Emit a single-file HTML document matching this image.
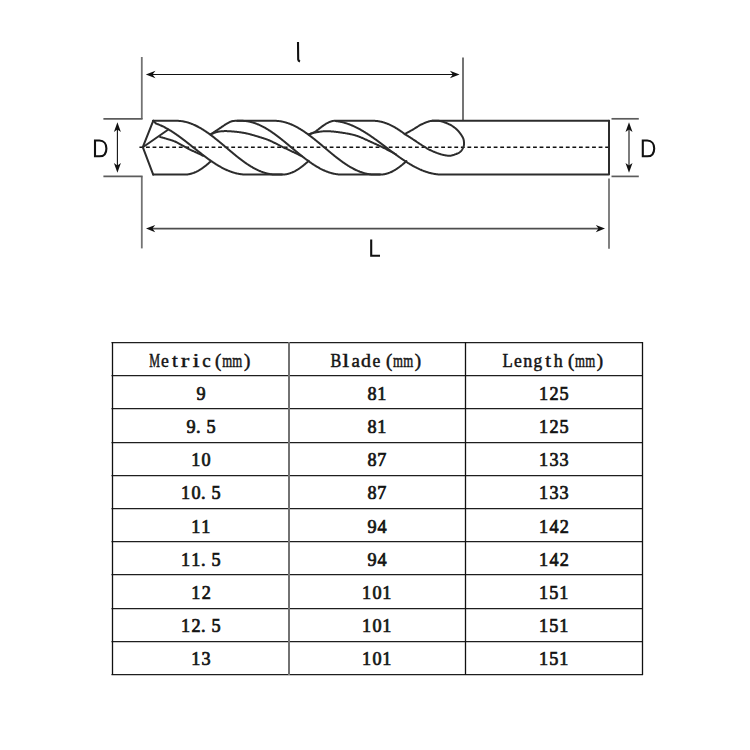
<!DOCTYPE html>
<html><head><meta charset="utf-8"><style>
html,body{margin:0;padding:0;background:#fff;}
svg{display:block;}
.tt{font-family:"Liberation Serif", serif;}
</style></head><body>
<svg width="750" height="750" viewBox="0 0 750 750">
<rect width="750" height="750" fill="#fff"/>
<g stroke="#737373" stroke-width="1.8" fill="none">
<path d="M141.8,57 L141.8,118.8"/>
<path d="M141.8,176.4 L141.8,248.4"/>
<path d="M609,178.6 L609,248.8"/>
</g>
<g stroke="#5c5c5c" stroke-width="1.7" fill="none">
<path d="M142.6,118.8 L103.4,118.8"/>
<path d="M103.4,176.4 L142.6,176.4"/>
<path d="M463,57.4 L463,120"/>
<path d="M611.5,118.8 L638.8,118.8"/>
<path d="M611.5,176.4 L638.8,176.4"/>
</g>
<g stroke="#111" stroke-width="1.1" fill="none">
<path d="M150,74.5 L455,74.5"/>
<path d="M117.4,128 L117.4,167"/>
<path d="M629,128 L629,167"/>
</g>
<g stroke="#4e4e4e" stroke-width="1.6" fill="none">
<path d="M150,228.6 L600,228.6"/>
</g>
<g fill="#111" stroke="none">
<path d="M145.8,74.5 L155.5,70.8 L152.5,74.5 L155.5,78.2 Z"/>
<path d="M459.6,74.5 L449.9,70.8 L452.9,74.5 L449.9,78.2 Z"/>
<path d="M146,228.6 L155.2,225 L152.5,228.6 L155.2,232.2 Z"/>
<path d="M605,228.6 L595.8,225 L598.5,228.6 L595.8,232.2 Z"/>
<path d="M117.4,122.3 L113.9,132 L117.4,129.5 L120.9,132 Z"/>
<path d="M117.4,172.7 L113.9,163 L117.4,165.5 L120.9,163 Z"/>
<path d="M629,122.3 L625.5,132 L629,129.5 L632.5,132 Z"/>
<path d="M629,172.7 L625.5,163 L629,165.5 L632.5,163 Z"/>
</g>
<g stroke="#111" stroke-width="2.1" fill="none" stroke-linecap="butt">
<path d="M298,42 L298.2,59.5 Q298.4,61 300,61.6"/>
<path d="M371.2,239.6 L371.2,255.8 L380,255.8"/>
<path d="M95,140.5 L95,156.3 L99.5,156.3 C104.5,156.3 106.4,152.5 106.4,148.4 C106.4,144 104,140.5 99.5,140.5 Z"/>
<path d="M642.8,140.5 L642.8,156.3 L647.3,156.3 C652.3,156.3 654.2,152.5 654.2,148.4 C654.2,144 651.8,140.5 647.3,140.5 Z"/>
</g>
<path d="M139.44,147.3 L608,147.3" stroke="#111" stroke-width="1.5" stroke-dasharray="3.8 2.76" fill="none"/>
<g stroke="#2c2c2c" stroke-width="2.0" fill="none" stroke-linejoin="round" stroke-linecap="round">
<path d="M153.20,120.80 L142.80,147.20 L153.20,174.60"/>
<path d="M153.20,120.80 L176.40,120.80 L176.90,120.80 L177.41,120.81 L177.91,120.83 L178.41,120.85 L178.91,120.88 L179.42,120.92 L179.92,120.96 L180.42,121.01 L180.92,121.07 L181.43,121.13 L181.93,121.20 L182.43,121.28 L182.93,121.36 L183.44,121.45 L183.94,121.55 L184.44,121.65 L184.94,121.76 L185.45,121.88 L185.95,122.00 L186.45,122.13 L186.95,122.26 L187.46,122.41 L187.96,122.55 L188.46,122.71 L188.96,122.87 L189.47,123.03 L189.97,123.21 L190.47,123.39 L190.97,123.57 L191.48,123.76 L191.98,123.96 L192.48,124.16 L192.98,124.37 L193.49,124.58 L193.99,124.80 L194.49,125.03 L194.99,125.26 L195.50,125.50 L196.00,125.74 L196.50,125.99 L197.00,126.24 L197.51,126.50 L198.01,126.76 L198.51,127.03 L199.01,127.31 L199.52,127.59 L200.02,127.87 L200.52,128.16 L201.02,128.45 L201.53,128.75 L202.03,129.06 L202.53,129.37 L203.03,129.68 L203.54,130.00 L204.04,130.32 L204.54,130.65 L205.04,130.98 L205.55,131.31 L206.05,131.65 L206.55,131.99 L207.05,132.34 L207.56,132.69 L208.06,133.04 L208.56,133.40 L209.06,133.76 L209.57,134.13 L210.07,134.50 L210.57,134.87 L211.07,135.24 L211.58,135.62 L212.08,136.00 L212.58,136.39 L213.08,136.77 L213.59,137.16 L214.09,137.55 L214.59,137.95 L215.09,138.34 L215.60,138.74 L216.10,139.15 L216.60,139.55 L217.10,139.95 L217.61,140.36 L218.11,140.77 L218.61,141.18 L219.11,141.60 L219.62,142.01 L220.12,142.43 L220.62,142.84 L221.12,143.26 L221.63,143.68 L222.13,144.10 L222.63,144.52 L223.13,144.94 L223.64,145.37 L224.14,145.79 L224.64,146.21 L225.14,146.64 L225.65,147.06 L226.15,147.49 L226.65,147.91 L227.15,148.34 L227.66,148.76 L228.16,149.19 L228.66,149.61 L229.16,150.03 L229.67,150.46 L230.17,150.88 L230.67,151.30 L231.17,151.72 L231.68,152.14 L232.18,152.56 L232.68,152.97 L233.18,153.39 L233.69,153.80 L234.19,154.22 L234.69,154.63 L235.19,155.04 L235.70,155.45 L236.20,155.85 L236.70,156.25 L237.20,156.66 L237.71,157.06 L238.21,157.45 L238.71,157.85 L239.21,158.24 L239.72,158.63 L240.22,159.01 L240.72,159.40 L241.22,159.78 L241.73,160.16 L242.23,160.53 L242.73,160.90 L243.23,161.27 L243.74,161.64 L244.24,162.00 L244.74,162.36 L245.24,162.71 L245.75,163.06 L246.25,163.41 L246.75,163.75 L247.25,164.09 L247.76,164.42 L248.26,164.75 L248.76,165.08 L249.26,165.40 L249.77,165.72 L250.27,166.03 L250.77,166.34 L251.27,166.65 L251.78,166.95 L252.28,167.24 L252.78,167.53 L253.28,167.81 L253.79,168.09 L254.29,168.37 L254.79,168.64 L255.29,168.90 L255.80,169.16 L256.30,169.41 L256.80,169.66 L257.30,169.90 L257.81,170.14 L258.31,170.37 L258.81,170.60 L259.31,170.82 L259.82,171.03 L260.32,171.24 L260.82,171.44 L261.32,171.64 L261.83,171.83 L262.33,172.01 L262.83,172.19 L263.33,172.37 L263.84,172.53 L264.34,172.69 L264.84,172.85 L265.34,172.99 L265.85,173.14 L266.35,173.27 L266.85,173.40 L267.35,173.52 L267.86,173.64 L268.36,173.75 L268.86,173.85 L269.36,173.95 L269.87,174.04 L270.37,174.12 L270.87,174.20 L271.37,174.27 L271.88,174.33 L272.38,174.39 L272.88,174.44 L273.38,174.48 L273.89,174.52 L274.39,174.55 L274.89,174.57 L275.39,174.59 L275.90,174.60 L276.40,174.60 L282.00,174.60"/>
<path d="M153.20,174.60 L184.60,174.60 L185.10,174.59 L185.60,174.58 L186.10,174.55 L186.60,174.51 L187.10,174.47 L187.60,174.41 L188.10,174.34 L188.60,174.26 L189.10,174.17 L189.60,174.07 L190.10,173.96 L190.60,173.84 L191.10,173.71 L191.60,173.56 L192.10,173.41 L192.60,173.25 L193.10,173.08 L193.60,172.90 L194.10,172.70 L194.60,172.50 L195.10,172.29 L195.60,172.07 L196.10,171.84 L196.60,171.59 L197.10,171.34 L197.60,171.08 L198.10,170.82 L198.60,170.54 L199.10,170.25 L199.60,169.95 L200.10,169.65 L200.60,169.34 L201.10,169.01 L201.60,168.68 L202.10,168.34 L202.60,168.00 L203.10,167.64 L203.60,167.28 L204.10,166.91 L204.60,166.53 L205.10,166.15 L205.60,165.75 L206.10,165.35 L206.60,164.95 L207.10,164.53 L207.60,164.11 L208.10,163.68 L208.60,163.25 L209.10,162.81 L209.60,162.37 L210.10,161.91 L210.60,161.46"/>
<path d="M153.20,120.80 L156.00,123.52 L156.50,123.70 L157.00,123.88 L157.50,124.07 L158.00,124.26 L158.51,124.46 L159.01,124.66 L159.51,124.87 L160.01,125.09 L160.51,125.30 L161.01,125.53 L161.51,125.76 L162.01,125.99 L162.51,126.23 L163.02,126.47 L163.52,126.72 L164.02,126.97 L164.52,127.23 L165.02,127.49 L165.52,127.76 L166.02,128.03 L166.52,128.30 L167.02,128.58 L167.53,128.86 L168.03,129.15 L168.53,129.44 L169.03,129.74 L169.53,130.04 L170.03,130.34 L170.53,130.65 L171.03,130.96 L171.53,131.27 L172.04,131.59 L172.54,131.91 L173.04,132.24 L173.54,132.57 L174.04,132.90 L174.54,133.23 L175.04,133.57 L175.54,133.91 L176.04,134.26 L176.55,134.61 L177.05,134.96 L177.55,135.31 L178.05,135.66 L178.55,136.02 L179.05,136.38 L179.55,136.75 L180.05,137.11 L180.55,137.48 L181.06,137.85 L181.56,138.23 L182.06,138.60 L182.56,138.98 L183.06,139.36 L183.56,139.74 L184.06,140.12 L184.56,140.50 L185.06,140.89 L185.57,141.28 L186.07,141.67 L186.57,142.06 L187.07,142.45 L187.57,142.84 L188.07,143.23 L188.57,143.63 L189.07,144.02 L189.57,144.42 L190.08,144.82 L190.58,145.21 L191.08,145.61 L191.58,146.01 L192.08,146.41 L192.58,146.81 L193.08,147.21 L193.58,147.61 L194.08,148.01 L194.59,148.41 L195.09,148.80 L195.59,149.20 L196.09,149.60 L196.59,150.00 L197.09,150.40 L197.59,150.80 L198.09,151.19 L198.59,151.59 L199.10,151.98 L199.60,152.38 L200.10,152.77 L200.60,153.16 L201.10,153.55 L201.60,153.94 L202.10,154.33 L202.60,154.72 L203.10,155.10 L203.60,155.48 L204.11,155.87 L204.61,156.25 L205.11,156.62 L205.61,157.00 L206.11,157.37 L206.61,157.74 L207.11,158.11 L207.61,158.48 L208.11,158.85 L208.62,159.21 L209.12,159.57 L209.62,159.93 L210.12,160.28 L210.62,160.63 L211.12,160.98 L211.62,161.33 L212.12,161.67 L212.62,162.01 L213.13,162.35 L213.63,162.68 L214.13,163.01 L214.63,163.34 L215.13,163.66 L215.63,163.98 L216.13,164.30 L216.63,164.61 L217.13,164.92 L217.64,165.22 L218.14,165.52 L218.64,165.82 L219.14,166.11 L219.64,166.40 L220.14,166.69 L220.64,166.97 L221.14,167.25 L221.64,167.52 L222.15,167.79 L222.65,168.05 L223.15,168.31 L223.65,168.56 L224.15,168.81 L224.65,169.06 L225.15,169.30 L225.65,169.53 L226.15,169.77 L226.66,169.99 L227.16,170.21 L227.66,170.43 L228.16,170.64 L228.66,170.85 L229.16,171.05 L229.66,171.24 L230.16,171.43 L230.66,171.62 L231.17,171.80 L231.67,171.97 L232.17,172.14 L232.67,172.31 L233.17,172.47 L233.67,172.62 L234.17,172.77 L234.67,172.91 L235.17,173.05 L235.68,173.18 L236.18,173.30 L236.68,173.42 L237.18,173.54 L237.68,173.64 L238.18,173.75 L238.68,173.84 L239.18,173.94 L239.68,174.02 L240.19,174.10 L240.69,174.17 L241.19,174.24 L241.69,174.30 L242.19,174.36 L242.69,174.41 L243.19,174.45 L243.69,174.49 L244.19,174.53 L244.70,174.55 L245.20,174.57 L245.70,174.59 L246.20,174.60 L246.70,174.60 L282.00,174.60 L282.50,174.59 L283.01,174.58 L283.51,174.55 L284.02,174.51 L284.52,174.47 L285.02,174.41 L285.53,174.34 L286.03,174.26 L286.53,174.16 L287.04,174.06 L287.54,173.95 L288.05,173.83 L288.55,173.69 L289.05,173.55 L289.56,173.39 L290.06,173.23 L290.56,173.05 L291.07,172.87 L291.57,172.67 L292.08,172.47 L292.58,172.25 L293.08,172.03 L293.59,171.79 L294.09,171.55 L294.59,171.30 L295.10,171.03 L295.60,170.76 L296.11,170.48 L296.61,170.19 L297.11,169.89 L297.62,169.58 L298.12,169.26 L298.62,168.93 L299.13,168.60 L299.63,168.25 L300.14,167.90 L300.64,167.54 L301.14,167.17 L301.65,166.80 L302.15,166.42 L302.65,166.02 L303.16,165.63 L303.66,165.22 L304.17,164.81 L304.67,164.39 L305.17,163.96 L305.68,163.53 L306.18,163.09 L306.68,162.65 L307.19,162.20 L307.69,161.74 L308.20,161.28 L308.70,160.81"/>
<path d="M142.80,147.20 L168.00,129.70"/>
<path d="M160.10,137.00 L160.37,137.07 L160.69,137.15 L161.06,137.25 L161.48,137.35 L161.93,137.46 L162.42,137.59 L162.95,137.72 L163.51,137.87 L164.10,138.04 L164.71,138.21 L165.35,138.40 L166.00,138.60 L166.39,138.72 L166.78,138.84 L167.20,138.96 L167.62,139.09 L168.05,139.22 L168.50,139.35 L168.96,139.48 L169.42,139.62 L169.89,139.76 L170.38,139.91 L170.86,140.07 L171.36,140.22 L171.86,140.39 L172.37,140.56 L172.88,140.74 L173.39,140.93 L173.91,141.13 L174.43,141.33 L174.95,141.54 L175.48,141.77 L176.00,142.00 L176.41,142.19 L176.83,142.39 L177.26,142.60 L177.69,142.82 L178.13,143.05 L178.57,143.29 L179.02,143.53 L179.47,143.78 L179.93,144.03 L180.38,144.29 L180.84,144.55 L181.31,144.82 L181.77,145.08 L182.23,145.35 L182.69,145.62 L183.16,145.89 L183.62,146.16 L184.07,146.42 L184.53,146.68 L184.98,146.94 L185.43,147.20 L185.87,147.45 L186.31,147.69 L186.74,147.93 L187.17,148.16 L187.59,148.39 L188.00,148.60 L188.50,148.86 L189.00,149.11 L189.51,149.36 L190.01,149.60 L190.51,149.84 L191.01,150.08 L191.50,150.31 L191.99,150.54 L192.48,150.77 L192.96,150.99 L193.44,151.21 L193.91,151.42 L194.37,151.63 L194.82,151.83 L195.26,152.03 L195.69,152.23 L196.11,152.42 L196.51,152.61 L196.91,152.79 L197.29,152.96 L197.65,153.13 L198.00,153.30 L198.66,153.62 L199.28,153.92 L199.86,154.21 L200.40,154.48 L200.89,154.73 L201.35,154.96 L201.76,155.17 L202.13,155.36 L202.46,155.53 L202.75,155.67 L203.00,155.80"/>
<path d="M210.60,134.40 L210.84,134.24 L211.12,134.06 L211.43,133.85 L211.79,133.61 L212.17,133.36 L212.59,133.09 L213.02,132.80 L213.48,132.49 L213.95,132.18 L214.43,131.86 L214.93,131.53 L215.43,131.20 L215.92,130.87 L216.42,130.54 L216.91,130.22 L217.39,129.90 L217.85,129.60 L218.30,129.30 L218.72,129.02 L219.14,128.74 L219.57,128.45 L220.01,128.15 L220.45,127.85 L220.89,127.55 L221.34,127.25 L221.78,126.95 L222.22,126.65 L222.66,126.35 L223.10,126.06 L223.53,125.77 L223.96,125.49 L224.37,125.21 L224.78,124.95 L225.18,124.69 L225.57,124.45 L225.94,124.22 L226.30,124.00 L226.84,123.68 L227.35,123.37 L227.84,123.09 L228.30,122.83 L228.74,122.58 L229.17,122.35 L229.59,122.14 L230.00,121.94 L230.42,121.76 L230.84,121.59 L231.26,121.44 L231.70,121.30 L232.23,121.16 L232.74,121.05 L233.24,120.97 L233.75,120.92 L234.25,120.88 L234.76,120.86 L235.29,120.84 L235.83,120.83 L236.40,120.82 L237.00,120.80 L237.46,120.78 L237.97,120.77 L238.51,120.77 L239.08,120.76 L239.66,120.76 L240.25,120.77 L240.83,120.77 L241.40,120.77 L241.95,120.78 L242.46,120.79 L242.93,120.79 L243.35,120.80 L243.71,120.80 L244.00,120.80 L274.40,120.80 L274.90,120.80 L275.40,120.81 L275.90,120.83 L276.40,120.85 L276.90,120.88 L277.40,120.92 L277.90,120.96 L278.40,121.01 L278.90,121.07 L279.40,121.13 L279.90,121.20 L280.40,121.27 L280.90,121.35 L281.40,121.44 L281.90,121.54 L282.40,121.64 L282.90,121.74 L283.40,121.86 L283.90,121.98 L284.40,122.10 L284.90,122.24 L285.40,122.37 L285.90,122.52 L286.40,122.67 L286.90,122.83 L287.40,122.99 L287.90,123.16 L288.40,123.34 L288.90,123.52 L289.40,123.70 L289.90,123.90 L290.40,124.10 L290.90,124.30 L291.40,124.51 L291.90,124.73 L292.40,124.95 L292.90,125.17 L293.40,125.41 L293.90,125.64 L294.40,125.89 L294.90,126.14 L295.40,126.39 L295.90,126.65 L296.40,126.91 L296.90,127.18 L297.40,127.46 L297.90,127.74 L298.40,128.02 L298.90,128.31 L299.40,128.60 L299.90,128.90 L300.40,129.21 L300.90,129.51 L301.40,129.83 L301.90,130.14 L302.40,130.46 L302.90,130.79 L303.40,131.12 L303.90,131.45 L304.40,131.79 L304.90,132.13 L305.40,132.47 L305.90,132.82 L306.40,133.17 L306.90,133.53 L307.40,133.89 L307.90,134.25 L308.40,134.62 L308.90,134.98 L309.40,135.36 L309.90,135.73 L310.40,136.11 L310.90,136.49 L311.40,136.87 L311.90,137.26 L312.40,137.65 L312.90,138.04 L313.40,138.43 L313.90,138.83 L314.40,139.23 L314.90,139.63 L315.40,140.03 L315.90,140.43 L316.40,140.84 L316.90,141.25 L317.40,141.66 L317.90,142.07 L318.40,142.48 L318.90,142.89 L319.40,143.31 L319.90,143.72 L320.40,144.14 L320.90,144.55 L321.40,144.97 L321.90,145.39 L322.40,145.81 L322.90,146.23 L323.40,146.65 L323.90,147.07 L324.40,147.49 L324.90,147.91 L325.40,148.33 L325.90,148.75 L326.40,149.17 L326.90,149.59 L327.40,150.01 L327.90,150.43 L328.40,150.85 L328.90,151.26 L329.40,151.68 L329.90,152.09 L330.40,152.51 L330.90,152.92 L331.40,153.33 L331.90,153.74 L332.40,154.15 L332.90,154.56 L333.40,154.97 L333.90,155.37 L334.40,155.77 L334.90,156.17 L335.40,156.57 L335.90,156.97 L336.40,157.36 L336.90,157.75 L337.40,158.14 L337.90,158.53 L338.40,158.91 L338.90,159.29 L339.40,159.67 L339.90,160.04 L340.40,160.42 L340.90,160.78 L341.40,161.15 L341.90,161.51 L342.40,161.87 L342.90,162.23 L343.40,162.58 L343.90,162.93 L344.40,163.27 L344.90,163.61 L345.40,163.95 L345.90,164.28 L346.40,164.61 L346.90,164.94 L347.40,165.26 L347.90,165.57 L348.40,165.89 L348.90,166.19 L349.40,166.50 L349.90,166.80 L350.40,167.09 L350.90,167.38 L351.40,167.66 L351.90,167.94 L352.40,168.22 L352.90,168.49 L353.40,168.75 L353.90,169.01 L354.40,169.26 L354.90,169.51 L355.40,169.76 L355.90,169.99 L356.40,170.23 L356.90,170.45 L357.40,170.67 L357.90,170.89 L358.40,171.10 L358.90,171.30 L359.40,171.50 L359.90,171.70 L360.40,171.88 L360.90,172.06 L361.40,172.24 L361.90,172.41 L362.40,172.57 L362.90,172.73 L363.40,172.88 L363.90,173.03 L364.40,173.16 L364.90,173.30 L365.40,173.42 L365.90,173.54 L366.40,173.66 L366.90,173.76 L367.40,173.86 L367.90,173.96 L368.40,174.05 L368.90,174.13 L369.40,174.20 L369.90,174.27 L370.40,174.33 L370.90,174.39 L371.40,174.44 L371.90,174.48 L372.40,174.52 L372.90,174.55 L373.40,174.57 L373.90,174.59 L374.40,174.60 L374.90,174.60 L380.00,174.60"/>
<path d="M210.60,134.40 L210.86,134.30 L211.17,134.18 L211.52,134.03 L211.91,133.86 L212.34,133.68 L212.79,133.49 L213.27,133.29 L213.78,133.08 L214.31,132.87 L214.85,132.67 L215.41,132.47 L215.98,132.28 L216.56,132.11 L217.14,131.95 L217.72,131.81 L218.30,131.70 L218.74,131.63 L219.18,131.56 L219.62,131.49 L220.07,131.43 L220.53,131.38 L220.98,131.33 L221.45,131.28 L221.92,131.24 L222.40,131.21 L222.88,131.18 L223.38,131.15 L223.89,131.13 L224.40,131.12 L224.93,131.11 L225.47,131.10 L226.02,131.11 L226.59,131.11 L227.17,131.13 L227.76,131.15 L228.37,131.17 L229.00,131.20 L229.42,131.22 L229.86,131.25 L230.30,131.28 L230.75,131.31 L231.22,131.34 L231.69,131.38 L232.16,131.41 L232.65,131.45 L233.14,131.50 L233.64,131.54 L234.15,131.59 L234.66,131.64 L235.17,131.69 L235.69,131.75 L236.21,131.80 L236.73,131.86 L237.26,131.92 L237.78,131.99 L238.31,132.05 L238.84,132.12 L239.37,132.19 L239.90,132.26 L240.42,132.34 L240.95,132.41 L241.47,132.49 L241.99,132.57 L242.50,132.66 L243.01,132.74 L243.52,132.83 L244.02,132.92 L244.51,133.01 L245.00,133.10 L245.50,133.20 L246.01,133.30 L246.51,133.41 L247.02,133.53 L247.53,133.64 L248.04,133.76 L248.55,133.89 L249.07,134.02 L249.58,134.15 L250.09,134.28 L250.60,134.42 L251.11,134.55 L251.62,134.69 L252.12,134.84 L252.62,134.98 L253.12,135.12 L253.62,135.27 L254.11,135.41 L254.60,135.56 L255.09,135.70 L255.57,135.84 L256.04,135.99 L256.51,136.13 L256.97,136.27 L257.43,136.41 L257.88,136.55 L258.32,136.68 L258.75,136.82 L259.18,136.95 L259.59,137.08 L260.00,137.20 L260.58,137.38 L261.13,137.54 L261.66,137.70 L262.17,137.86 L262.66,138.01 L263.13,138.15 L263.58,138.30 L264.03,138.44 L264.46,138.58 L264.89,138.72 L265.32,138.87 L265.75,139.01 L266.17,139.17 L266.61,139.33 L267.05,139.49 L267.50,139.67 L267.96,139.85 L268.44,140.04 L268.94,140.25 L269.46,140.47 L270.00,140.70 L270.41,140.88 L270.82,141.06 L271.24,141.25 L271.66,141.45 L272.10,141.66 L272.54,141.87 L272.98,142.08 L273.43,142.30 L273.88,142.53 L274.34,142.75 L274.80,142.99 L275.26,143.22 L275.73,143.46 L276.20,143.70 L276.67,143.94 L277.15,144.18 L277.62,144.43 L278.10,144.67 L278.58,144.92 L279.06,145.16 L279.53,145.41 L280.01,145.65 L280.49,145.89 L280.96,146.14 L281.43,146.37 L281.90,146.61 L282.37,146.84 L282.84,147.07 L283.30,147.30 L283.77,147.53 L284.24,147.76 L284.72,147.99 L285.21,148.22 L285.70,148.46 L286.20,148.70 L286.71,148.94 L287.21,149.18 L287.72,149.43 L288.23,149.67 L288.74,149.91 L289.24,150.15 L289.75,150.39 L290.25,150.63 L290.75,150.87 L291.24,151.10 L291.73,151.33 L292.20,151.56 L292.67,151.78 L293.14,152.00 L293.59,152.21 L294.03,152.42 L294.45,152.63 L294.87,152.82 L295.27,153.01 L295.65,153.20 L296.02,153.37 L296.37,153.54 L296.70,153.70 L297.51,154.09 L298.23,154.44 L298.87,154.75 L299.45,155.03 L299.96,155.29 L300.41,155.51 L300.80,155.71 L301.16,155.88 L301.47,156.04 L301.75,156.18 L302.00,156.30"/>
<path d="M237.20,120.80 L237.70,120.80 L238.20,120.80 L238.70,120.80 L239.20,120.80 L239.70,120.80 L240.20,120.80 L240.70,120.80 L241.20,120.80 L241.70,120.80 L242.20,120.81 L242.70,120.83 L243.20,120.85 L243.70,120.88 L244.20,120.92 L244.70,120.96 L245.20,121.01 L245.70,121.06 L246.20,121.12 L246.70,121.19 L247.20,121.27 L247.70,121.35 L248.20,121.44 L248.70,121.53 L249.20,121.63 L249.70,121.73 L250.20,121.85 L250.70,121.97 L251.20,122.09 L251.70,122.22 L252.20,122.36 L252.70,122.50 L253.20,122.65 L253.70,122.81 L254.20,122.97 L254.70,123.14 L255.20,123.31 L255.70,123.49 L256.20,123.68 L256.70,123.87 L257.20,124.06 L257.70,124.27 L258.20,124.47 L258.70,124.69 L259.20,124.91 L259.70,125.13 L260.20,125.36 L260.70,125.60 L261.20,125.84 L261.70,126.09 L262.20,126.34 L262.70,126.59 L263.20,126.86 L263.70,127.12 L264.20,127.40 L264.70,127.67 L265.20,127.95 L265.70,128.24 L266.20,128.53 L266.70,128.83 L267.20,129.13 L267.70,129.43 L268.20,129.74 L268.70,130.06 L269.20,130.37 L269.70,130.70 L270.20,131.02 L270.70,131.35 L271.20,131.69 L271.70,132.02 L272.20,132.37 L272.70,132.71 L273.20,133.06 L273.70,133.41 L274.20,133.77 L274.70,134.13 L275.20,134.49 L275.70,134.86 L276.20,135.23 L276.70,135.60 L277.20,135.97 L277.70,136.35 L278.20,136.73 L278.70,137.12 L279.20,137.50 L279.70,137.89 L280.20,138.28 L280.70,138.67 L281.20,139.07 L281.70,139.47 L282.20,139.87 L282.70,140.27 L283.20,140.67 L283.70,141.08 L284.20,141.48 L284.70,141.89 L285.20,142.30 L285.70,142.71 L286.20,143.12 L286.70,143.53 L287.20,143.95 L287.70,144.36 L288.20,144.78 L288.70,145.19 L289.20,145.61 L289.70,146.03 L290.20,146.45 L290.70,146.86 L291.20,147.28 L291.70,147.70 L292.20,148.12 L292.70,148.54 L293.20,148.95 L293.70,149.37 L294.20,149.79 L294.70,150.21 L295.20,150.62 L295.70,151.04 L296.20,151.45 L296.70,151.87 L297.20,152.28 L297.70,152.69 L298.20,153.10 L298.70,153.51 L299.20,153.92 L299.70,154.32 L300.20,154.73 L300.70,155.13 L301.20,155.53 L301.70,155.93 L302.20,156.33 L302.70,156.73 L303.20,157.12 L303.70,157.51 L304.20,157.90 L304.70,158.28 L305.20,158.67 L305.70,159.05 L306.20,159.43 L306.70,159.80 L307.20,160.17 L307.70,160.54 L308.20,160.91 L308.70,161.27 L309.20,161.63 L309.70,161.99 L310.20,162.34 L310.70,162.69 L311.20,163.03 L311.70,163.38 L312.20,163.71 L312.70,164.05 L313.20,164.38 L313.70,164.70 L314.20,165.03 L314.70,165.34 L315.20,165.66 L315.70,165.97 L316.20,166.27 L316.70,166.57 L317.20,166.87 L317.70,167.16 L318.20,167.45 L318.70,167.73 L319.20,168.00 L319.70,168.28 L320.20,168.54 L320.70,168.81 L321.20,169.06 L321.70,169.31 L322.20,169.56 L322.70,169.80 L323.20,170.04 L323.70,170.27 L324.20,170.49 L324.70,170.71 L325.20,170.93 L325.70,171.13 L326.20,171.34 L326.70,171.53 L327.20,171.72 L327.70,171.91 L328.20,172.09 L328.70,172.26 L329.20,172.43 L329.70,172.59 L330.20,172.75 L330.70,172.90 L331.20,173.04 L331.70,173.18 L332.20,173.31 L332.70,173.43 L333.20,173.55 L333.70,173.67 L334.20,173.77 L334.70,173.87 L335.20,173.96 L335.70,174.05 L336.20,174.13 L336.70,174.21 L337.20,174.28 L337.70,174.34 L338.20,174.39 L338.70,174.44 L339.20,174.48 L339.70,174.52 L340.20,174.55 L340.70,174.57 L341.20,174.59 L341.70,174.60 L342.20,174.60 L380.00,174.60 L380.51,174.59 L381.02,174.58 L381.52,174.55 L382.03,174.51 L382.54,174.46 L383.05,174.40 L383.55,174.33 L384.06,174.25 L384.57,174.16 L385.08,174.05 L385.58,173.94 L386.09,173.81 L386.60,173.68 L387.11,173.53 L387.62,173.38 L388.12,173.21 L388.63,173.03 L389.14,172.84 L389.65,172.65 L390.15,172.44 L390.66,172.22 L391.17,171.99 L391.68,171.75 L392.18,171.50 L392.69,171.25 L393.20,170.98 L393.71,170.70 L394.22,170.42 L394.72,170.12 L395.23,169.81 L395.74,169.50 L396.25,169.18 L396.75,168.85 L397.26,168.51 L397.77,168.16 L398.28,167.80 L398.78,167.44 L399.29,167.06 L399.80,166.68 L400.31,166.29 L400.82,165.90 L401.32,165.49 L401.83,165.08 L402.34,164.67 L402.85,164.24 L403.35,163.81 L403.86,163.37 L404.37,162.93 L404.88,162.48 L405.38,162.02 L405.89,161.56 L406.40,161.09"/>
<path d="M308.90,134.40 L309.16,134.29 L309.46,134.16 L309.82,134.02 L310.22,133.87 L310.65,133.70 L311.11,133.52 L311.60,133.32 L312.11,133.10 L312.63,132.88 L313.17,132.63 L313.71,132.37 L314.25,132.10 L314.78,131.81 L315.30,131.50 L315.69,131.26 L316.09,130.99 L316.50,130.71 L316.92,130.41 L317.36,130.09 L317.80,129.77 L318.24,129.43 L318.69,129.09 L319.14,128.74 L319.59,128.39 L320.03,128.05 L320.48,127.70 L320.91,127.37 L321.34,127.04 L321.76,126.72 L322.17,126.41 L322.56,126.12 L322.94,125.85 L323.30,125.60 L323.84,125.23 L324.35,124.89 L324.84,124.57 L325.30,124.27 L325.74,123.99 L326.17,123.73 L326.59,123.48 L327.00,123.25 L327.42,123.02 L327.84,122.81 L328.26,122.60 L328.70,122.40 L329.18,122.19 L329.63,121.99 L330.08,121.80 L330.52,121.63 L330.96,121.47 L331.41,121.33 L331.88,121.20 L332.36,121.08 L332.87,120.97 L333.42,120.88 L334.00,120.80 L334.44,120.76 L334.93,120.72 L335.45,120.70 L336.00,120.69 L336.57,120.68 L337.15,120.68 L337.74,120.69 L338.33,120.70 L338.91,120.71 L339.47,120.73 L340.00,120.75 L340.50,120.76 L340.96,120.78 L341.36,120.79 L341.71,120.80 L342.00,120.80 L373.00,120.80 L373.50,120.80 L374.00,120.81 L374.50,120.83 L375.00,120.86 L375.50,120.89 L376.00,120.93 L376.50,120.98 L377.00,121.03 L377.50,121.09 L378.00,121.16 L378.50,121.23 L379.00,121.32 L379.50,121.41 L380.00,121.50 L380.50,121.61 L381.00,121.72 L381.50,121.83 L382.00,121.96 L382.50,122.09 L383.00,122.23 L383.50,122.37 L384.00,122.52 L384.50,122.68 L385.00,122.85 L385.50,123.02 L386.00,123.20 L386.50,123.38 L387.00,123.57 L387.50,123.77 L388.00,123.98 L388.50,124.19 L389.00,124.40 L389.50,124.63 L390.00,124.86 L390.50,125.09 L391.00,125.33 L391.50,125.58 L392.00,125.83 L392.50,126.09 L393.00,126.36 L393.50,126.63 L394.00,126.91 L394.50,127.19 L395.00,127.48 L395.50,127.77 L396.00,128.07 L396.50,128.37 L397.00,128.68 L397.50,128.99 L398.00,129.31 L398.50,129.64 L399.00,129.96 L399.50,130.30 L400.00,130.63 L400.50,130.98 L401.00,131.32 L401.50,131.68 L402.00,132.03 L404.80,134.10 L405.04,134.25 L405.31,134.43 L405.63,134.63 L405.98,134.85 L406.37,135.09 L406.78,135.35 L407.22,135.63 L407.67,135.91 L408.15,136.21 L408.63,136.52 L409.12,136.83 L409.62,137.15 L410.12,137.46 L410.61,137.78 L411.10,138.09 L411.58,138.39 L412.04,138.69 L412.48,138.97 L412.91,139.24 L413.30,139.50 L413.76,139.80 L414.20,140.10 L414.62,140.38 L415.02,140.65 L415.42,140.92 L415.80,141.19 L416.18,141.45 L416.56,141.71 L416.94,141.98 L417.32,142.24 L417.72,142.51 L418.14,142.79 L418.57,143.08 L419.02,143.37 L419.49,143.68 L420.00,144.00 L420.37,144.23 L420.75,144.47 L421.14,144.72 L421.54,144.98 L421.95,145.24 L422.37,145.51 L422.80,145.78 L423.23,146.05 L423.67,146.33 L424.12,146.61 L424.57,146.89 L425.02,147.17 L425.48,147.45 L425.93,147.73 L426.39,148.00 L426.85,148.27 L427.31,148.54 L427.77,148.80 L428.22,149.06 L428.67,149.30 L429.12,149.55 L429.56,149.78 L430.00,150.00 L430.48,150.24 L430.96,150.47 L431.45,150.70 L431.93,150.92 L432.42,151.14 L432.92,151.36 L433.41,151.57 L433.90,151.77 L434.39,151.97 L434.88,152.17 L435.37,152.36 L435.85,152.55 L436.34,152.73 L436.81,152.91 L437.29,153.08 L437.76,153.25 L438.22,153.41 L438.68,153.57 L439.13,153.72 L439.57,153.86 L440.00,154.00 L440.56,154.17 L441.11,154.34 L441.66,154.50 L442.20,154.64 L442.74,154.78 L443.27,154.91 L443.78,155.03 L444.29,155.14 L444.79,155.25 L445.29,155.34 L445.77,155.42 L446.24,155.50 L446.70,155.56 L447.14,155.62 L447.58,155.66 L448.00,155.70 L448.63,155.74 L449.21,155.75 L449.74,155.74 L450.25,155.70 L450.73,155.64 L451.21,155.56 L451.69,155.45 L452.19,155.33 L452.73,155.17 L453.30,155.00 L453.74,154.86 L454.21,154.71 L454.70,154.54 L455.21,154.36 L455.73,154.17 L456.25,153.96 L456.77,153.75 L457.29,153.53 L457.80,153.29 L458.29,153.05 L458.76,152.80 L459.21,152.54 L459.62,152.27 L460.00,152.00 L460.44,151.64 L460.84,151.25 L461.22,150.84 L461.56,150.41 L461.88,149.97 L462.17,149.53 L462.43,149.07 L462.68,148.62 L462.90,148.17 L463.11,147.73 L463.30,147.30 L463.50,146.79 L463.67,146.29 L463.80,145.79 L463.90,145.29 L463.97,144.79 L464.01,144.29 L464.03,143.77 L464.02,143.25 L464.00,142.70 L463.97,142.25 L463.94,141.79 L463.90,141.34 L463.85,140.88 L463.78,140.41 L463.68,139.93 L463.56,139.44 L463.40,138.93 L463.21,138.41 L462.98,137.87 L462.70,137.30 L462.50,136.94 L462.29,136.56 L462.06,136.17 L461.81,135.77 L461.55,135.35 L461.27,134.93 L460.99,134.51 L460.69,134.08 L460.37,133.64 L460.06,133.21 L459.73,132.78 L459.39,132.36 L459.05,131.94 L458.71,131.52 L458.36,131.12 L458.01,130.73 L457.65,130.36 L457.30,130.00 L456.95,129.65 L456.59,129.31 L456.22,128.98 L455.86,128.66 L455.49,128.34 L455.11,128.03 L454.72,127.72 L454.33,127.42 L453.94,127.12 L453.53,126.84 L453.12,126.55 L452.70,126.27 L452.28,126.00 L451.84,125.73 L451.39,125.47 L450.94,125.21 L450.48,124.95 L450.00,124.70 L449.58,124.49 L449.14,124.27 L448.70,124.06 L448.23,123.84 L447.76,123.63 L447.28,123.42 L446.79,123.22 L446.30,123.02 L445.80,122.82 L445.30,122.63 L444.79,122.44 L444.29,122.26 L443.78,122.08 L443.29,121.91 L442.79,121.76 L442.30,121.60 L441.82,121.46 L441.35,121.33 L440.89,121.21 L440.44,121.10 L440.00,121.00 L439.43,120.89 L438.85,120.81 L438.26,120.74 L437.67,120.70 L437.08,120.67 L436.50,120.66 L435.93,120.66 L435.38,120.67 L434.84,120.69 L434.33,120.71 L433.84,120.73 L433.39,120.75 L432.98,120.78 L432.60,120.79 L432.28,120.80 L432.00,120.80"/>
<path d="M308.90,134.40 L309.17,134.31 L309.49,134.21 L309.85,134.08 L310.26,133.94 L310.70,133.78 L311.18,133.62 L311.69,133.45 L312.23,133.27 L312.80,133.10 L313.40,132.94 L314.01,132.78 L314.65,132.63 L315.30,132.50 L315.71,132.42 L316.14,132.34 L316.57,132.26 L317.02,132.18 L317.48,132.10 L317.95,132.01 L318.43,131.93 L318.91,131.85 L319.41,131.77 L319.92,131.69 L320.43,131.62 L320.96,131.55 L321.49,131.49 L322.03,131.43 L322.58,131.37 L323.13,131.32 L323.69,131.28 L324.26,131.25 L324.83,131.22 L325.41,131.21 L326.00,131.20 L326.44,131.20 L326.89,131.20 L327.35,131.21 L327.81,131.22 L328.27,131.24 L328.75,131.26 L329.22,131.28 L329.70,131.30 L330.19,131.33 L330.67,131.36 L331.17,131.40 L331.66,131.43 L332.16,131.48 L332.67,131.52 L333.18,131.57 L333.69,131.61 L334.20,131.67 L334.72,131.72 L335.24,131.78 L335.76,131.84 L336.28,131.90 L336.81,131.97 L337.34,132.03 L337.87,132.10 L338.40,132.17 L338.93,132.25 L339.46,132.32 L340.00,132.40 L340.47,132.47 L340.95,132.54 L341.42,132.61 L341.90,132.68 L342.39,132.75 L342.88,132.82 L343.37,132.90 L343.86,132.97 L344.35,133.05 L344.85,133.13 L345.35,133.21 L345.85,133.30 L346.36,133.38 L346.86,133.47 L347.37,133.56 L347.88,133.65 L348.38,133.75 L348.89,133.84 L349.40,133.94 L349.91,134.05 L350.42,134.16 L350.93,134.27 L351.44,134.38 L351.95,134.50 L352.46,134.62 L352.97,134.75 L353.48,134.88 L353.99,135.01 L354.49,135.15 L355.00,135.30 L355.50,135.45 L356.00,135.60 L356.47,135.75 L356.95,135.91 L357.43,136.07 L357.91,136.24 L358.39,136.42 L358.87,136.60 L359.36,136.79 L359.85,136.98 L360.34,137.17 L360.83,137.37 L361.32,137.58 L361.81,137.78 L362.30,137.99 L362.79,138.20 L363.28,138.42 L363.76,138.63 L364.25,138.85 L364.73,139.07 L365.22,139.29 L365.70,139.51 L366.17,139.72 L366.65,139.94 L367.12,140.16 L367.59,140.38 L368.05,140.59 L368.51,140.81 L368.97,141.02 L369.42,141.23 L369.86,141.43 L370.30,141.63 L370.73,141.83 L371.16,142.03 L371.58,142.22 L372.00,142.40 L372.53,142.64 L373.05,142.87 L373.57,143.10 L374.07,143.32 L374.56,143.54 L375.04,143.76 L375.52,143.97 L375.99,144.19 L376.45,144.40 L376.91,144.60 L377.36,144.81 L377.81,145.02 L378.25,145.22 L378.69,145.43 L379.13,145.64 L379.57,145.84 L380.00,146.05 L380.44,146.26 L380.88,146.47 L381.31,146.68 L381.75,146.89 L382.19,147.11 L382.64,147.32 L383.09,147.55 L383.54,147.77 L384.00,148.00 L384.45,148.23 L384.92,148.46 L385.40,148.71 L385.89,148.96 L386.39,149.23 L386.90,149.49 L387.41,149.76 L387.93,150.04 L388.44,150.31 L388.96,150.59 L389.48,150.86 L389.99,151.14 L390.50,151.41 L391.00,151.68 L391.49,151.95 L391.97,152.21 L392.44,152.46 L392.89,152.71 L393.32,152.95 L393.74,153.18 L394.14,153.39 L394.52,153.60 L394.87,153.79 L395.19,153.97 L395.49,154.13 L395.76,154.27 L396.00,154.40"/>
<path d="M336.00,121.09 L336.50,121.15 L337.00,121.22 L337.51,121.28 L338.01,121.36 L338.51,121.44 L339.01,121.52 L339.51,121.61 L340.02,121.71 L340.52,121.81 L341.02,121.91 L341.52,122.03 L342.03,122.14 L342.53,122.26 L343.03,122.39 L343.53,122.52 L344.03,122.66 L344.54,122.80 L345.04,122.94 L345.54,123.09 L346.04,123.25 L346.54,123.41 L347.05,123.58 L347.55,123.75 L348.05,123.92 L348.55,124.10 L349.06,124.29 L349.56,124.48 L350.06,124.67 L350.56,124.87 L351.06,125.07 L351.57,125.28 L352.07,125.49 L352.57,125.71 L353.07,125.93 L353.57,126.15 L354.08,126.38 L354.58,126.62 L355.08,126.86 L355.58,127.10 L356.08,127.34 L356.59,127.60 L357.09,127.85 L357.59,128.11 L358.09,128.37 L358.60,128.64 L359.10,128.91 L359.60,129.18 L360.10,129.46 L360.60,129.74 L361.11,130.02 L361.61,130.31 L362.11,130.60 L362.61,130.90 L363.11,131.20 L363.62,131.50 L364.12,131.80 L364.62,132.11 L365.12,132.42 L365.63,132.74 L366.13,133.05 L366.63,133.37 L367.13,133.70 L367.63,134.02 L368.14,134.35 L368.64,134.68 L369.14,135.01 L369.64,135.35 L370.14,135.69 L370.65,136.03 L371.15,136.37 L371.65,136.72 L372.15,137.07 L372.65,137.42 L373.16,137.77 L373.66,138.12 L374.16,138.48 L374.66,138.84 L375.17,139.20 L375.67,139.56 L376.17,139.92 L376.67,140.29 L377.17,140.65 L377.68,141.02 L378.18,141.39 L378.68,141.76 L379.18,142.13 L379.68,142.50 L380.19,142.87 L380.69,143.25 L381.19,143.62 L381.69,144.00 L382.20,144.38 L382.70,144.75 L383.20,145.13 L383.70,145.51 L384.20,145.89 L384.71,146.27 L385.21,146.65 L385.71,147.03 L386.21,147.41 L386.71,147.79 L387.22,148.17 L387.72,148.55 L388.22,148.93 L388.72,149.31 L389.23,149.68 L389.73,150.06 L390.23,150.44 L390.73,150.82 L391.23,151.20 L391.74,151.57 L392.24,151.95 L392.74,152.32 L393.24,152.70 L393.74,153.07 L394.25,153.44 L394.75,153.81 L395.25,154.18 L395.75,154.55 L396.25,154.92 L396.76,155.28 L397.26,155.64 L397.76,156.01 L398.26,156.37 L398.77,156.73 L399.27,157.08 L399.77,157.44 L400.27,157.79 L400.77,158.14 L401.28,158.49 L401.78,158.84 L402.28,159.18 L402.78,159.52 L403.28,159.86 L403.79,160.20 L404.29,160.54 L404.79,160.87 L405.29,161.20 L405.80,161.53 L406.30,161.85 L406.80,162.17 L407.30,162.49 L407.80,162.81 L408.31,163.12 L408.81,163.43 L409.31,163.74 L409.81,164.04 L410.31,164.34 L410.82,164.64 L411.32,164.93 L411.82,165.22 L412.32,165.51 L412.82,165.79 L413.33,166.07 L413.83,166.35 L414.33,166.62 L414.83,166.89 L415.34,167.15 L415.84,167.41 L416.34,167.67 L416.84,167.92 L417.34,168.17 L417.85,168.41 L418.35,168.65 L418.85,168.89 L419.35,169.12 L419.85,169.35 L420.36,169.57 L420.86,169.79 L421.36,170.01 L421.86,170.22 L422.37,170.42 L422.87,170.62 L423.37,170.82 L423.87,171.01 L424.37,171.20 L424.88,171.38 L425.38,171.56 L425.88,171.73 L426.38,171.90 L426.88,172.06 L427.39,172.22 L427.89,172.38 L428.39,172.52 L428.89,172.67 L429.39,172.81 L429.90,172.94 L430.40,173.07 L430.90,173.19 L431.40,173.31 L431.91,173.43 L432.41,173.53 L432.91,173.64 L433.41,173.74 L433.91,173.83 L434.42,173.92 L434.92,174.00 L435.42,174.08 L435.92,174.15 L436.42,174.21 L436.93,174.28 L437.43,174.33 L437.93,174.38 L438.43,174.43 L438.94,174.47 L439.44,174.50 L439.94,174.53 L440.44,174.56 L440.94,174.58 L441.45,174.59 L441.95,174.60 L442.45,174.60 L609.00,174.60 L609.00,120.80"/>
<path d="M404.80,134.10 L405.05,133.96 L405.34,133.80 L405.67,133.61 L406.04,133.40 L406.44,133.18 L406.87,132.94 L407.33,132.68 L407.80,132.42 L408.30,132.14 L408.80,131.86 L409.32,131.57 L409.84,131.27 L410.36,130.98 L410.88,130.69 L411.39,130.39 L411.90,130.11 L412.38,129.83 L412.85,129.56 L413.30,129.30 L413.76,129.03 L414.21,128.76 L414.66,128.48 L415.11,128.20 L415.56,127.92 L416.00,127.64 L416.45,127.36 L416.89,127.08 L417.33,126.80 L417.77,126.52 L418.21,126.25 L418.65,125.98 L419.09,125.72 L419.53,125.46 L419.97,125.21 L420.41,124.96 L420.86,124.73 L421.30,124.50 L421.77,124.27 L422.26,124.03 L422.75,123.80 L423.24,123.58 L423.73,123.36 L424.23,123.14 L424.72,122.93 L425.22,122.73 L425.71,122.53 L426.19,122.35 L426.67,122.17 L427.14,121.99 L427.60,121.83 L428.04,121.68 L428.48,121.54 L428.90,121.42 L429.30,121.30 L429.94,121.14 L430.52,121.02 L431.05,120.94 L431.56,120.88 L432.04,120.85 L432.53,120.83 L433.02,120.83 L433.54,120.82 L434.09,120.82 L434.70,120.80 L435.18,120.78 L435.71,120.77 L436.27,120.77 L436.86,120.76 L437.47,120.76 L438.08,120.77 L438.69,120.77 L439.28,120.77 L439.85,120.78 L440.39,120.79 L440.88,120.79 L441.32,120.80 L441.70,120.80 L442.00,120.80 L609.00,120.80"/>
</g>
<g stroke="#1e1e1e" stroke-width="1.25">
<line x1="111.5" y1="342.5" x2="643" y2="342.5"/>
<line x1="111.5" y1="375.5" x2="643" y2="375.5"/>
<line x1="111.5" y1="408.5" x2="643" y2="408.5"/>
<line x1="111.5" y1="442.5" x2="643" y2="442.5"/>
<line x1="111.5" y1="475.5" x2="643" y2="475.5"/>
<line x1="111.5" y1="508.5" x2="643" y2="508.5"/>
<line x1="111.5" y1="541.5" x2="643" y2="541.5"/>
<line x1="111.5" y1="574.5" x2="643" y2="574.5"/>
<line x1="111.5" y1="608.5" x2="643" y2="608.5"/>
<line x1="111.5" y1="641.5" x2="643" y2="641.5"/>
<line x1="111.5" y1="674.5" x2="643" y2="674.5"/>
</g>
<g stroke-width="1.3">
<line x1="112.5" y1="342" x2="112.5" y2="675" stroke="#111" stroke-width="1.3"/>
<line x1="289.0" y1="342" x2="289.0" y2="675" stroke="#727272" stroke-width="2.0"/>
<line x1="465.5" y1="342" x2="465.5" y2="675" stroke="#111" stroke-width="1.3"/>
<line x1="642.5" y1="342" x2="642.5" y2="675" stroke="#111" stroke-width="1.3"/>
</g>
<g class="tt" fill="#141414" stroke="#141414">
<text transform="translate(149.21,366.70) scale(0.663,1)" font-size="18.3" stroke-width="0.50">M</text>
<text transform="translate(161.11,366.70) scale(0.963,1)" font-size="18.3" stroke-width="0.50">e</text>
<text transform="translate(172.00,366.70) scale(1.141,1)" font-size="18.3" stroke-width="0.44">t</text>
<text transform="translate(180.67,366.70) scale(1.400,1)" font-size="18.3" stroke-width="0.36">r</text>
<text transform="translate(192.48,366.70) scale(1.390,1)" font-size="18.3" stroke-width="0.36">i</text>
<text transform="translate(202.27,366.70) scale(1.032,1)" font-size="18.3" stroke-width="0.48">c</text>
<text transform="translate(215.08,366.70) scale(1.026,1)" font-size="18.3" stroke-width="0.49">(</text>
<text transform="translate(222.18,366.70) scale(0.698,1)" font-size="18.3" stroke-width="0.50">m</text>
<text transform="translate(232.33,366.70) scale(0.698,1)" font-size="18.3" stroke-width="0.50">m</text>
<text transform="translate(243.91,366.70) scale(1.046,1)" font-size="18.3" stroke-width="0.48">)</text>
<text transform="translate(330.38,366.70) scale(0.885,1)" font-size="18.3" stroke-width="0.50">B</text>
<text transform="translate(342.25,366.70) scale(1.390,1)" font-size="18.3" stroke-width="0.36">l</text>
<text transform="translate(351.54,366.70) scale(1.035,1)" font-size="18.3" stroke-width="0.48">a</text>
<text transform="translate(360.88,366.70) scale(1.088,1)" font-size="18.3" stroke-width="0.46">d</text>
<text transform="translate(372.58,366.70) scale(0.963,1)" font-size="18.3" stroke-width="0.50">e</text>
<text transform="translate(385.96,366.70) scale(1.026,1)" font-size="18.3" stroke-width="0.49">(</text>
<text transform="translate(393.05,366.70) scale(0.698,1)" font-size="18.3" stroke-width="0.50">m</text>
<text transform="translate(403.20,366.70) scale(0.698,1)" font-size="18.3" stroke-width="0.50">m</text>
<text transform="translate(414.79,366.70) scale(1.046,1)" font-size="18.3" stroke-width="0.48">)</text>
<text transform="translate(502.59,366.70) scale(0.919,1)" font-size="18.3" stroke-width="0.50">L</text>
<text transform="translate(513.96,366.70) scale(0.963,1)" font-size="18.3" stroke-width="0.50">e</text>
<text transform="translate(523.17,366.70) scale(0.987,1)" font-size="18.3" stroke-width="0.50">n</text>
<text transform="translate(533.38,366.70) scale(0.946,1)" font-size="18.3" stroke-width="0.50">g</text>
<text transform="translate(545.15,366.70) scale(1.141,1)" font-size="18.3" stroke-width="0.44">t</text>
<text transform="translate(553.79,366.70) scale(0.979,1)" font-size="18.3" stroke-width="0.50">h</text>
<text transform="translate(567.93,366.70) scale(1.026,1)" font-size="18.3" stroke-width="0.49">(</text>
<text transform="translate(575.03,366.70) scale(0.698,1)" font-size="18.3" stroke-width="0.50">m</text>
<text transform="translate(585.18,366.70) scale(0.698,1)" font-size="18.3" stroke-width="0.50">m</text>
<text transform="translate(596.76,366.70) scale(1.046,1)" font-size="18.3" stroke-width="0.48">)</text>
<text x="196.59" y="399.80" font-size="18.2" stroke-width="0.72">9</text>
<text x="367.45" y="399.80" font-size="18.2" stroke-width="0.72">8</text>
<text x="377.27" y="399.80" font-size="18.2" stroke-width="0.72">1</text>
<text x="539.12" y="399.80" font-size="18.2" stroke-width="0.72">1</text>
<text x="549.59" y="399.80" font-size="18.2" stroke-width="0.72">2</text>
<text x="559.41" y="399.80" font-size="18.2" stroke-width="0.72">5</text>
<text x="186.49" y="433.00" font-size="18.2" stroke-width="0.72">9</text>
<text x="196.07" y="433.00" font-size="18.2" stroke-width="0.72">.</text>
<text x="206.41" y="433.00" font-size="18.2" stroke-width="0.72">5</text>
<text x="367.45" y="433.00" font-size="18.2" stroke-width="0.72">8</text>
<text x="377.27" y="433.00" font-size="18.2" stroke-width="0.72">1</text>
<text x="539.12" y="433.00" font-size="18.2" stroke-width="0.72">1</text>
<text x="549.59" y="433.00" font-size="18.2" stroke-width="0.72">2</text>
<text x="559.41" y="433.00" font-size="18.2" stroke-width="0.72">5</text>
<text x="191.17" y="466.20" font-size="18.2" stroke-width="0.72">1</text>
<text x="201.55" y="466.20" font-size="18.2" stroke-width="0.72">0</text>
<text x="367.45" y="466.20" font-size="18.2" stroke-width="0.72">8</text>
<text x="377.23" y="466.20" font-size="18.2" stroke-width="0.72">7</text>
<text x="539.12" y="466.20" font-size="18.2" stroke-width="0.72">1</text>
<text x="549.40" y="466.20" font-size="18.2" stroke-width="0.72">3</text>
<text x="559.50" y="466.20" font-size="18.2" stroke-width="0.72">3</text>
<text x="181.07" y="499.40" font-size="18.2" stroke-width="0.72">1</text>
<text x="191.45" y="499.40" font-size="18.2" stroke-width="0.72">0</text>
<text x="201.12" y="499.40" font-size="18.2" stroke-width="0.72">.</text>
<text x="211.46" y="499.40" font-size="18.2" stroke-width="0.72">5</text>
<text x="367.45" y="499.40" font-size="18.2" stroke-width="0.72">8</text>
<text x="377.23" y="499.40" font-size="18.2" stroke-width="0.72">7</text>
<text x="539.12" y="499.40" font-size="18.2" stroke-width="0.72">1</text>
<text x="549.40" y="499.40" font-size="18.2" stroke-width="0.72">3</text>
<text x="559.50" y="499.40" font-size="18.2" stroke-width="0.72">3</text>
<text x="191.17" y="532.60" font-size="18.2" stroke-width="0.72">1</text>
<text x="201.27" y="532.60" font-size="18.2" stroke-width="0.72">1</text>
<text x="367.54" y="532.60" font-size="18.2" stroke-width="0.72">9</text>
<text x="377.50" y="532.60" font-size="18.2" stroke-width="0.72">4</text>
<text x="539.12" y="532.60" font-size="18.2" stroke-width="0.72">1</text>
<text x="549.45" y="532.60" font-size="18.2" stroke-width="0.72">4</text>
<text x="559.69" y="532.60" font-size="18.2" stroke-width="0.72">2</text>
<text x="181.07" y="565.80" font-size="18.2" stroke-width="0.72">1</text>
<text x="191.17" y="565.80" font-size="18.2" stroke-width="0.72">1</text>
<text x="201.12" y="565.80" font-size="18.2" stroke-width="0.72">.</text>
<text x="211.46" y="565.80" font-size="18.2" stroke-width="0.72">5</text>
<text x="367.54" y="565.80" font-size="18.2" stroke-width="0.72">9</text>
<text x="377.50" y="565.80" font-size="18.2" stroke-width="0.72">4</text>
<text x="539.12" y="565.80" font-size="18.2" stroke-width="0.72">1</text>
<text x="549.45" y="565.80" font-size="18.2" stroke-width="0.72">4</text>
<text x="559.69" y="565.80" font-size="18.2" stroke-width="0.72">2</text>
<text x="191.17" y="599.00" font-size="18.2" stroke-width="0.72">1</text>
<text x="201.64" y="599.00" font-size="18.2" stroke-width="0.72">2</text>
<text x="362.12" y="599.00" font-size="18.2" stroke-width="0.72">1</text>
<text x="372.50" y="599.00" font-size="18.2" stroke-width="0.72">0</text>
<text x="382.32" y="599.00" font-size="18.2" stroke-width="0.72">1</text>
<text x="539.12" y="599.00" font-size="18.2" stroke-width="0.72">1</text>
<text x="549.31" y="599.00" font-size="18.2" stroke-width="0.72">5</text>
<text x="559.32" y="599.00" font-size="18.2" stroke-width="0.72">1</text>
<text x="181.07" y="632.20" font-size="18.2" stroke-width="0.72">1</text>
<text x="191.54" y="632.20" font-size="18.2" stroke-width="0.72">2</text>
<text x="201.12" y="632.20" font-size="18.2" stroke-width="0.72">.</text>
<text x="211.46" y="632.20" font-size="18.2" stroke-width="0.72">5</text>
<text x="362.12" y="632.20" font-size="18.2" stroke-width="0.72">1</text>
<text x="372.50" y="632.20" font-size="18.2" stroke-width="0.72">0</text>
<text x="382.32" y="632.20" font-size="18.2" stroke-width="0.72">1</text>
<text x="539.12" y="632.20" font-size="18.2" stroke-width="0.72">1</text>
<text x="549.31" y="632.20" font-size="18.2" stroke-width="0.72">5</text>
<text x="559.32" y="632.20" font-size="18.2" stroke-width="0.72">1</text>
<text x="191.17" y="665.40" font-size="18.2" stroke-width="0.72">1</text>
<text x="201.45" y="665.40" font-size="18.2" stroke-width="0.72">3</text>
<text x="362.12" y="665.40" font-size="18.2" stroke-width="0.72">1</text>
<text x="372.50" y="665.40" font-size="18.2" stroke-width="0.72">0</text>
<text x="382.32" y="665.40" font-size="18.2" stroke-width="0.72">1</text>
<text x="539.12" y="665.40" font-size="18.2" stroke-width="0.72">1</text>
<text x="549.31" y="665.40" font-size="18.2" stroke-width="0.72">5</text>
<text x="559.32" y="665.40" font-size="18.2" stroke-width="0.72">1</text>
</g>
</svg>
</body></html>
